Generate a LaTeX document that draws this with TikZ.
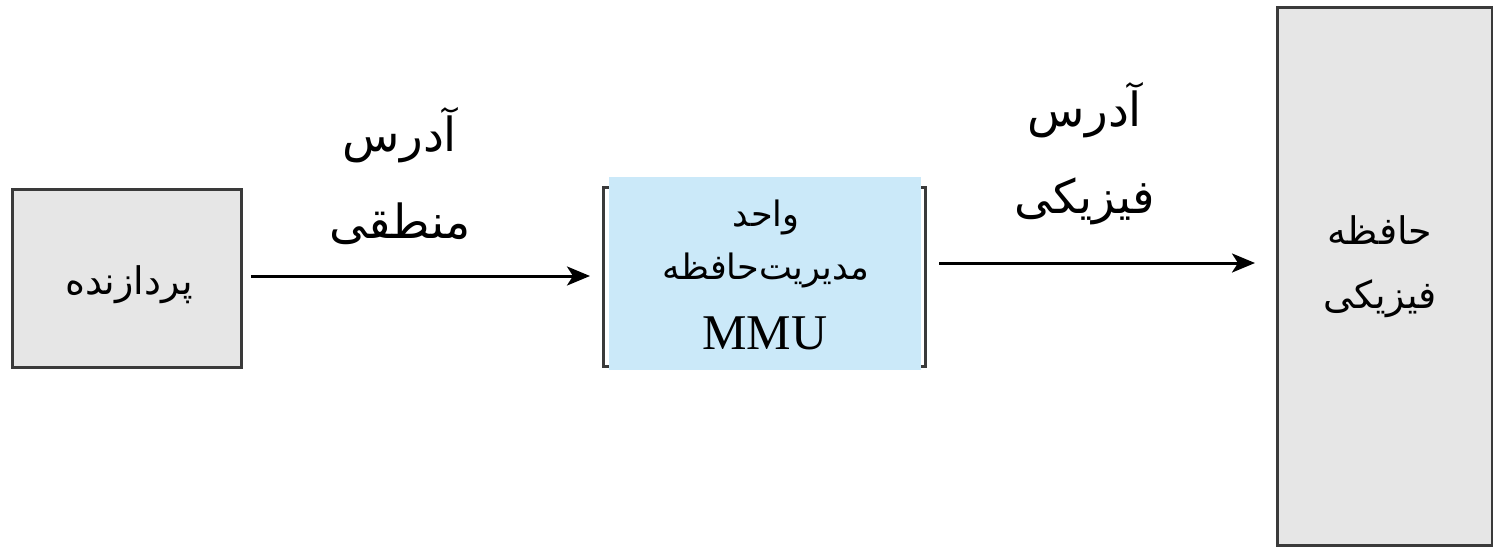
\documentclass[tikz,border=0pt]{standalone}
\usepackage{fontspec}
\setmainfont{Liberation Serif}
\newfontfamily\arabicfont[Script=Arabic]{DejaVu Sans}
\TeXXeTstate=1
\usetikzlibrary{arrows.meta}
\definecolor{boxgray}{HTML}{E6E6E6}
\definecolor{boxline}{HTML}{3A3A3A}
\definecolor{mmublue}{HTML}{CBE9F9}
\tikzset{
  graybox/.style={draw=boxline, line width=2.8pt, fill=boxgray, inner sep=0pt, anchor=north west},
  conn/.style={line width=3pt, -{Stealth[length=23pt,width=19pt,inset=6pt]}},
  lbl/.style={align=center, font=\arabicfont\fontsize{47}{87}\selectfont},
  txt/.style={align=center, font=\arabicfont\fontsize{38}{64}\selectfont}
}
\begin{document}
\begin{tikzpicture}[x=1pt,y=-1pt]
\useasboundingbox (0,0) rectangle (1493,546);
% processor
\node[graybox, minimum width=229pt, minimum height=178pt] (proc) at (11,188) {};
\node[txt] (proctxt) at (129,285) {\beginR پردازنده\endR};
% MMU bracket and box
\draw[boxline, line width=3pt] (603,187) rectangle (925,366);
\node[fill=mmublue, inner sep=0pt, anchor=north west, minimum width=312pt, minimum height=193pt] (mmu) at (609,177) {};
\node[font=\arabicfont\fontsize{35}{53}\selectfont, align=center] (mmutxt) at (766,244) {\beginR واحد\endR\\\beginR مدیریت‌حافظه\endR};
\node[font=\fontsize{50}{56}\selectfont] (mmulbl) at (765,333) {MMU};
% memory
\node[graybox, minimum width=215pt, minimum height=538pt] (mem) at (1276,6) {};
\node[txt] (memtxt) at (1380,267) {\beginR حافظه\endR\\\beginR فیزیکی\endR};
% labels
\node[lbl] (l1) at (400,176) {\beginR آدرس\endR\\\beginR منطقی\endR};
\node[lbl] (l2) at (1085,154) {\beginR آدرس\endR\\\beginR فیزیکی\endR};
% connectors
\draw[conn, shorten <=8pt, shorten >=19pt] (proc.east |- 0,276) -- (mmu.west |- 0,276);
\draw[conn, shorten <=18pt, shorten >=21pt] (mmu.east |- 0,263) -- (mem.west |- 0,263);
\end{tikzpicture}
\end{document}
